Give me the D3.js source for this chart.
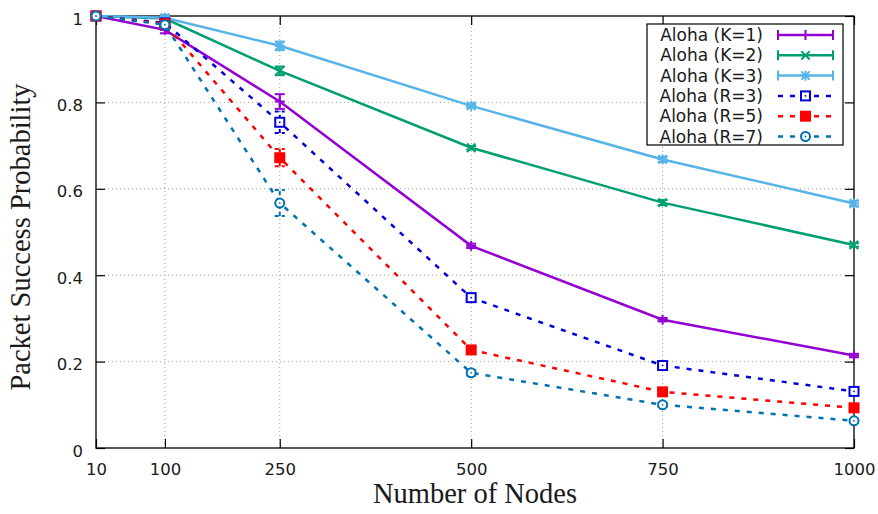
<!DOCTYPE html>
<html>
<head>
<meta charset="utf-8">
<script src="https://cdn.jsdelivr.net/npm/d3@7"></script>
<style>
html,body{margin:0;padding:0;background:#fff;}
svg{display:block;}
</style>
</head>
<body>
<svg id="chart" width="878" height="514"></svg>
<script>
// ---- data ----
const nodes = [10, 100, 250, 500, 750, 1000];
const xTicks = [10, 100, 250, 500, 750, 1000];
const yTicks = [0, 0.2, 0.4, 0.6, 0.8, 1];
const yTickLabels = ["0", "0.2", "0.4", "0.6", "0.8", "1"];
const seriesNames = ["Aloha (K=1)", "Aloha (K=2)", "Aloha (K=3)", "Aloha (R=3)", "Aloha (R=5)", "Aloha (R=7)"];
const k1 = [1.0, 0.968, 0.802, 0.468, 0.297, 0.214];
const k1Err = [0.003, 0.008, 0.017, 0.005, 0.004, 0.004];
const k2 = [1.0, 0.994, 0.873, 0.695, 0.568, 0.470];
const k2Err = [0.002, 0.008, 0.010, 0.004, 0.006, 0.004];
const k3 = [1.0, 0.996, 0.931, 0.792, 0.668, 0.566];
const k3Err = [0.002, 0.004, 0.010, 0.004, 0.006, 0.006];
const r3 = [1.0, 0.984, 0.754, 0.348, 0.191, 0.131];
const r3Err = [0.002, 0.006, 0.025, 0.008, 0.006, 0.004];
const r5 = [1.0, 0.982, 0.672, 0.227, 0.130, 0.093];
const r5Err = [0.002, 0.006, 0.020, 0.008, 0.005, 0.004];
const r7 = [1.0, 0.980, 0.567, 0.174, 0.100, 0.063];
const r7Err = [0.002, 0.006, 0.030, 0.006, 0.004, 0.004];

const styles = [
  {color: "#9400d3", marker: "plus", dashed: false},
  {color: "#009e73", marker: "cross", dashed: false},
  {color: "#56b4e9", marker: "star", dashed: false},
  {color: "#0000dd", marker: "osquare", dashed: true},
  {color: "#ff0000", marker: "fsquare", dashed: true},
  {color: "#0072b2", marker: "ocircle", dashed: true}
];
const values = [k1, k2, k3, r3, r5, r7];
const errors = [k1Err, k2Err, k3Err, r3Err, r5Err, r7Err];

// ---- layout ----
const L = 96, R = 854, T = 16, B = 448;
const svg = d3.select("#chart");
const x = d3.scaleLinear().domain([10, 1000]).range([L, R]);
const y = d3.scaleLinear().domain([0, 1]).range([B, T]);
const DASH = "5,7";
const LW = 2.5;
const textColor = "#1a1a1a";

// grid
const grid = svg.append("g").attr("stroke", "#a0a0a0").attr("stroke-width", 1).attr("stroke-dasharray", "1,3");
xTicks.filter(v => v !== 10 && v !== 1000).forEach(v => {
  grid.append("line").attr("x1", x(v)).attr("x2", x(v)).attr("y1", B).attr("y2", T);
});
yTicks.filter(v => v !== 0 && v !== 1).forEach(v => {
  grid.append("line").attr("x1", L).attr("x2", R).attr("y1", y(v)).attr("y2", y(v));
});

// axes via d3 axis (inward ticks, mirrored)
const tickFont = "'DejaVu Sans', sans-serif";
const xAxis = svg.append("g").attr("transform", `translate(0,${B})`)
  .call(d3.axisBottom(x).tickValues(xTicks).tickFormat(d3.format("d")).tickSize(-9).tickPadding(0));
xAxis.select(".domain").remove();
xAxis.selectAll(".tick line").attr("stroke", "#000").attr("stroke-width", 1.2);
xAxis.selectAll(".tick text").attr("font-family", tickFont).attr("font-size", 16.5).attr("fill", textColor)
  .attr("y", 27).attr("dy", 0);

const xAxisTop = svg.append("g").attr("transform", `translate(0,${T})`)
  .call(d3.axisTop(x).tickValues(xTicks).tickFormat("").tickSize(-9));
xAxisTop.select(".domain").remove();
xAxisTop.selectAll(".tick line").attr("stroke", "#000").attr("stroke-width", 1.2);

const yAxis = svg.append("g").attr("transform", `translate(${L},0)`)
  .call(d3.axisLeft(y).tickValues(yTicks).tickFormat((d, i) => yTickLabels[i]).tickSize(-9).tickPadding(0));
yAxis.select(".domain").remove();
yAxis.selectAll(".tick line").attr("stroke", "#000").attr("stroke-width", 1.2);
yAxis.selectAll(".tick text").attr("font-family", tickFont).attr("font-size", 16.5).attr("fill", textColor)
  .attr("x", -13).attr("dy", 0).attr("y", 8);

const yAxisRight = svg.append("g").attr("transform", `translate(${R},0)`)
  .call(d3.axisRight(y).tickValues(yTicks).tickFormat("").tickSize(-9));
yAxisRight.select(".domain").remove();
yAxisRight.selectAll(".tick line").attr("stroke", "#000").attr("stroke-width", 1.2);

// frame
svg.append("rect").attr("x", L).attr("y", T).attr("width", R - L).attr("height", B - T)
  .attr("fill", "none").attr("stroke", "#000").attr("stroke-width", 1.3);

// marker drawing
function drawMarker(g, type, cx, cy, color) {
  const s = 5;
  if (type === "plus" || type === "star") {
    g.append("line").attr("x1", cx - s).attr("x2", cx + s).attr("y1", cy).attr("y2", cy).attr("stroke", color).attr("stroke-width", 2);
    g.append("line").attr("x1", cx).attr("x2", cx).attr("y1", cy - s).attr("y2", cy + s).attr("stroke", color).attr("stroke-width", 2);
  }
  if (type === "cross" || type === "star") {
    const d = 4.2;
    g.append("line").attr("x1", cx - d).attr("x2", cx + d).attr("y1", cy - d).attr("y2", cy + d).attr("stroke", color).attr("stroke-width", 2);
    g.append("line").attr("x1", cx - d).attr("x2", cx + d).attr("y1", cy + d).attr("y2", cy - d).attr("stroke", color).attr("stroke-width", 2);
  }
  if (type === "osquare") {
    g.append("rect").attr("x", cx - 4.5).attr("y", cy - 4.5).attr("width", 9).attr("height", 9)
      .attr("fill", "#fff").attr("stroke", color).attr("stroke-width", 2);
    g.append("rect").attr("x", cx - 0.8).attr("y", cy - 0.8).attr("width", 1.6).attr("height", 1.6).attr("fill", color);
  }
  if (type === "fsquare") {
    g.append("rect").attr("x", cx - 5.5).attr("y", cy - 5.5).attr("width", 11).attr("height", 11).attr("fill", color);
  }
  if (type === "ocircle") {
    g.append("circle").attr("cx", cx).attr("cy", cy).attr("r", 4.5)
      .attr("fill", "#fff").attr("stroke", color).attr("stroke-width", 2);
    g.append("circle").attr("cx", cx).attr("cy", cy).attr("r", 0.9).attr("fill", color);
  }
}

// series
const lineGen = d3.line().x(d => x(d[0])).y(d => y(d[1]));
values.forEach((vals, si) => {
  const st = styles[si];
  const g = svg.append("g");
  const pts = nodes.map((n, i) => [n, vals[i]]);
  g.append("path").attr("d", lineGen(pts)).attr("fill", "none").attr("stroke", st.color)
    .attr("stroke-width", LW).attr("stroke-dasharray", st.dashed ? DASH : null);
  nodes.forEach((n, i) => {
    const e = errors[si][i];
    const cx = x(n), y1 = y(vals[i] - e), y2 = y(vals[i] + e);
    const eb = g.append("g").attr("stroke", st.color).attr("stroke-width", 2)
      .attr("stroke-dasharray", st.dashed ? "4,3" : null);
    eb.append("line").attr("x1", cx).attr("x2", cx).attr("y1", y1).attr("y2", y2);
    eb.append("line").attr("x1", cx - 5).attr("x2", cx + 5).attr("y1", y1).attr("y2", y1);
    eb.append("line").attr("x1", cx - 5).attr("x2", cx + 5).attr("y1", y2).attr("y2", y2);
  });
  nodes.forEach((n, i) => drawMarker(g, st.marker, x(n), y(vals[i]), st.color));
});

// legend
const lg = svg.append("g");
lg.append("rect").attr("x", 647).attr("y", 24).attr("width", 196).attr("height", 121)
  .attr("fill", "#fff").attr("stroke", "#000").attr("stroke-width", 1.2);
seriesNames.forEach((name, i) => {
  const st = styles[i];
  const cy = 35 + i * 20.3;
  lg.append("text").attr("x", 763).attr("y", cy + 6).attr("text-anchor", "end")
    .attr("font-family", tickFont).attr("font-size", 17).attr("fill", textColor).text(name);
  const x1 = 778, x2 = 833, xm = (x1 + x2) / 2;
  lg.append("line").attr("x1", x1).attr("x2", x2).attr("y1", cy).attr("y2", cy)
    .attr("stroke", st.color).attr("stroke-width", LW).attr("stroke-dasharray", st.dashed ? DASH : null);
  if (!st.dashed) {
    [x1, x2].forEach(xx => lg.append("line").attr("x1", xx).attr("x2", xx).attr("y1", cy - 5).attr("y2", cy + 5)
      .attr("stroke", st.color).attr("stroke-width", 2));
  }
  drawMarker(lg, st.marker, xm, cy, st.color);
});

// axis titles
svg.append("text").attr("x", (L + R) / 2).attr("y", 503).attr("text-anchor", "middle")
  .attr("font-family", "'Liberation Serif', 'Times New Roman', serif").attr("font-size", 28.5).attr("fill", textColor)
  .text("Number of Nodes");
svg.append("text").attr("transform", `translate(30,${(T + B) / 2 + 5}) rotate(-90)`).attr("text-anchor", "middle")
  .attr("font-family", "'Liberation Serif', 'Times New Roman', serif").attr("font-size", 28.5).attr("fill", textColor)
  .text("Packet Success Probability");
</script>
</body>
</html>
